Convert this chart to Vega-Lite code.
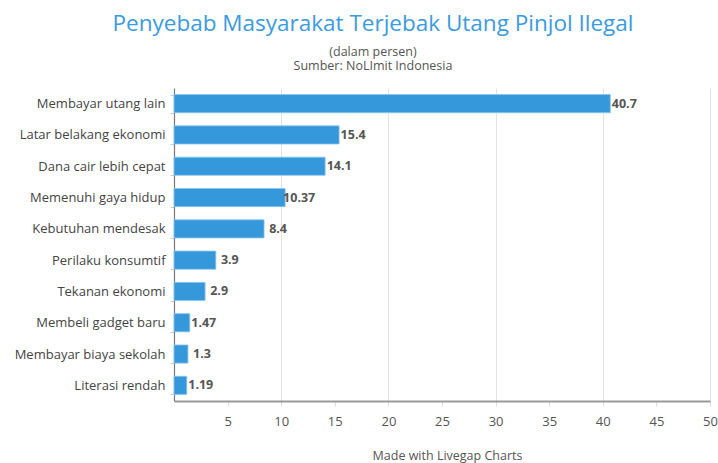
{
  "$schema": "https://vega.github.io/schema/vega-lite/v6.json",
  "autosize": "none",
  "width": 536,
  "height": 313,
  "padding": {"left": 174, "top": 88, "right": 8, "bottom": 62},
  "background": "white",
  "config": {"font": "Open Sans", "view": {"stroke": null}},
  "title": {
    "text": "Penyebab Masyarakat Terjebak Utang Pinjol Ilegal",
    "subtitle": ["(dalam persen)", "Sumber: NoLImit Indonesia"],
    "anchor": "middle",
    "frame": "group",
    "dx": -69,
    "fontSize": 22.5,
    "fontWeight": "normal",
    "color": "#3a9be0",
    "subtitleFontSize": 12.5,
    "subtitleColor": "#555555",
    "subtitleLineHeight": 14,
    "subtitlePadding": 10,
    "offset": 10
  },
  "data": {
    "values": [
      {"cause": "Membayar utang lain", "value": 40.7, "label": "40.7"},
      {"cause": "Latar belakang ekonomi", "value": 15.4, "label": "15.4"},
      {"cause": "Dana cair lebih cepat", "value": 14.1, "label": "14.1"},
      {"cause": "Memenuhi gaya hidup", "value": 10.37, "label": "10.37"},
      {"cause": "Kebutuhan mendesak", "value": 8.4, "label": "8.4"},
      {"cause": "Perilaku konsumtif", "value": 3.9, "label": "3.9"},
      {"cause": "Tekanan ekonomi", "value": 2.9, "label": "2.9"},
      {"cause": "Membeli gadget baru", "value": 1.47, "label": "1.47"},
      {"cause": "Membayar biaya sekolah", "value": 1.3, "label": "1.3"},
      {"cause": "Literasi rendah", "value": 1.19, "label": "1.19"}
    ]
  },
  "encoding": {
    "y": {
      "field": "cause",
      "type": "nominal",
      "sort": null,
      "scale": {"paddingInner": 0.42, "paddingOuter": 0.21},
      "axis": {
        "title": null,
        "labelFontSize": 13,
        "labelColor": "#444444",
        "labelPadding": 5,
        "tickBand": "extent",
        "tickSize": 4,
        "tickColor": "#cccccc",
        "domainColor": "#777777",
        "domainWidth": 1.2,
        "grid": false
      }
    },
    "x": {
      "field": "value",
      "type": "quantitative",
      "scale": {"domain": [0, 50], "nice": false},
      "axis": {
        "values": [5, 10, 15, 20, 25, 30, 35, 40, 45, 50],
        "title": "Made with Livegap Charts",
        "titleFontSize": 12.5,
        "titleFontWeight": "normal",
        "titleColor": "#555555",
        "titleX": 273,
        "titleY": 58,
        "titleBaseline": "alphabetic",
        "labelFontSize": 13,
        "labelColor": "#555555",
        "labelPadding": 9,
        "labelFlush": false,
        "tickSize": 5,
        "tickColor": "#dddddd",
        "domainColor": "#999999",
        "domainWidth": 2,
        "grid": true,
        "gridColor": "#e3e3e3",
        "gridOpacity": {"condition": {"test": "datum.value % 10 === 0", "value": 1}, "value": 0}
      }
    }
  },
  "layer": [
    {
      "mark": {"type": "bar", "color": "#3598db", "stroke": "#8cc4ec", "strokeWidth": 0.8}
    },
    {
      "mark": {"type": "text", "align": "center", "dx": 14, "fontSize": 12.5, "fontWeight": "bold", "color": "#555555"},
      "encoding": {"text": {"field": "label"}}
    }
  ]
}
